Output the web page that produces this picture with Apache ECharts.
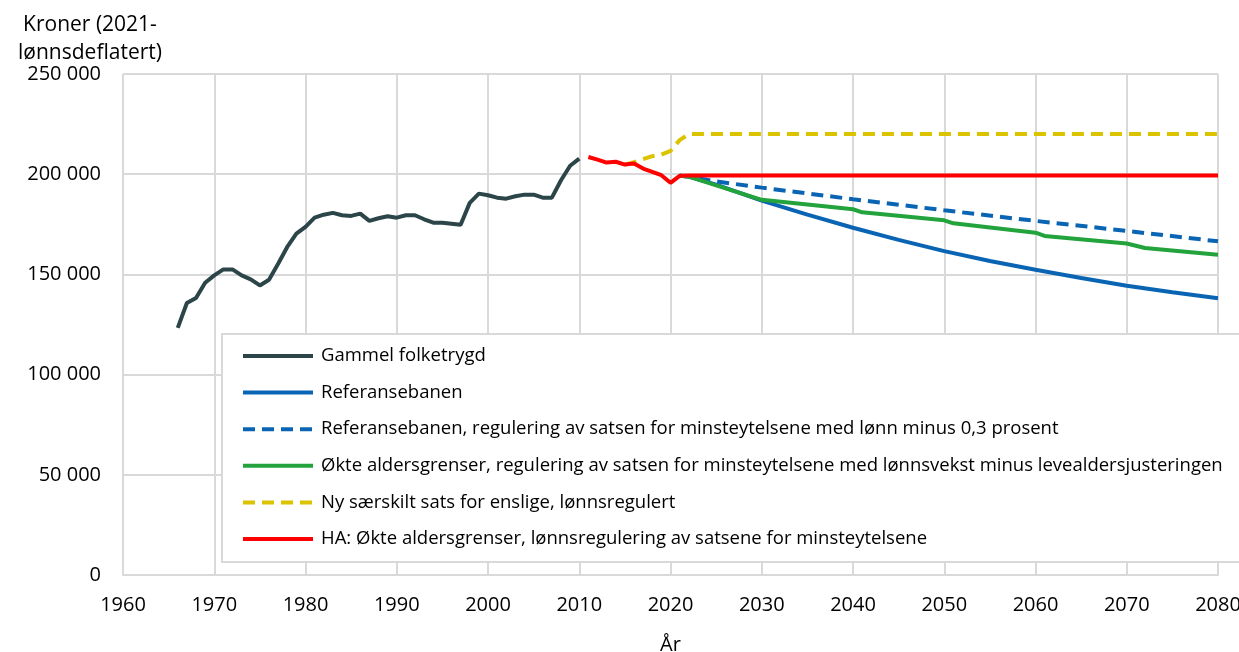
<!DOCTYPE html>
<html>
<head>
<meta charset="utf-8">
<script src="https://cdn.jsdelivr.net/npm/echarts@6/dist/echarts.min.js"></script>
<style>
  html, body { margin: 0; padding: 0; background: #fff; }
  #chart { width: 1239px; height: 652px; }
</style>
</head>
<body>
<div id="chart"></div>
<script>
// Gammel folketrygd (historisk), 1966-2010
var histYears = [1966, 1967, 1968, 1969, 1970, 1971, 1972, 1973, 1974, 1975, 1976, 1977, 1978, 1979,
  1980, 1981, 1982, 1983, 1984, 1985, 1986, 1987, 1988, 1989, 1990, 1991, 1992, 1993, 1994, 1995,
  1996, 1997, 1998, 1999, 2000, 2001, 2002, 2003, 2004, 2005, 2006, 2007, 2008, 2009, 2010];
var histValues = [123300, 135700, 138200, 145800, 149500, 152500, 152500, 149500, 147500, 144500,
  147300, 155300, 163700, 170300, 173700, 178300, 179800, 180700, 179500, 179200, 180300, 176700,
  178000, 179000, 178300, 179500, 179500, 177500, 175800, 175800, 175300, 174800, 185700, 190300,
  189500, 188300, 187800, 189000, 189800, 189800, 188300, 188300, 197000, 204200, 207800];

// HA: Økte aldersgrenser, lønnsregulering
var haYears = [2011, 2012, 2013, 2014, 2015, 2016, 2017, 2018, 2019, 2020, 2021, 2022, 2080];
var haValues = [208600, 207300, 205800, 206200, 204800, 205300, 202800, 201200, 199500, 195700, 199200, 199300, 199300];

// Ny særskilt sats for enslige
var enslYears = [2015, 2016, 2017, 2018, 2019, 2020, 2021, 2022, 2080];
var enslValues = [204800, 206000, 207500, 209000, 209800, 211600, 217000, 220000, 220000];

// Referansebanen
var refYears = [2021, 2022, 2025, 2030, 2035, 2040, 2045, 2050, 2055, 2060, 2065, 2070, 2075, 2080];
var refValues = [199200, 198800, 194800, 186800, 179800, 173300, 167200, 161600, 156700, 152300, 148200, 144300, 141100, 138100];

// Referansebanen, minus 0,3 prosent
var ref03Years = [2021, 2022, 2025, 2030, 2040, 2050, 2060, 2070, 2080];
var ref03Values = [199200, 198800, 196400, 193300, 187500, 182000, 176700, 171700, 166500];

// Økte aldersgrenser, minus levealdersjusteringen
var oktYears = [2021, 2022, 2030, 2040, 2041, 2050, 2051, 2060, 2061, 2070, 2072, 2080];
var oktValues = [199200, 198800, 187200, 182500, 181000, 177000, 175500, 170800, 169200, 165400, 163200, 159800];

var yTicks = [0, 50000, 100000, 150000, 200000, 250000];

var names = [
  'Gammel folketrygd',
  'Referansebanen',
  'Referansebanen, regulering av satsen for minsteytelsene med lønn minus 0,3 prosent',
  'Økte aldersgrenser, regulering av satsen for minsteytelsene med lønnsvekst minus levealdersjusteringen',
  'Ny særskilt sats for enslige, lønnsregulert',
  'HA: Økte aldersgrenser, lønnsregulering av satsene for minsteytelsene'
];

function pairs(xs, ys) {
  return xs.map(function (x, i) { return [x, ys[i]]; });
}

function fmt(v) {
  return String(v).replace(/\B(?=(\d{3})+(?!\d))/g, ' ');
}

var font = 'Open Sans';
var fs = 20;
var chart = echarts.init(document.getElementById('chart'));

function line(name, data, color, dashed, z) {
  return {
    name: name,
    type: 'line',
    data: data,
    symbol: 'none',
    z: z,
    lineStyle: { color: color, width: 4, type: dashed ? [12, 7] : 'solid' },
    itemStyle: { color: color }
  };
}

chart.setOption({
  animation: false,
  textStyle: { fontFamily: font },
  grid: { left: 123, right: 21, top: 74, bottom: 77, containLabel: false, outerBoundsMode: 'none' },
  graphic: [{
    type: 'text',
    x: 90, y: 11,
    style: {
      text: 'Kroner (2021-\nlønnsdeflatert)',
      textAlign: 'center',
      font: '21px "Open Sans"',
      lineHeight: 28,
      fill: '#000'
    }
  }],
  xAxis: {
    type: 'value',
    min: 1960, max: 2080, interval: 10,
    name: 'År',
    nameLocation: 'middle',
    nameGap: 60,
    nameTextStyle: { fontSize: fs, color: '#000', fontFamily: font },
    axisLine: { show: true, lineStyle: { color: '#d9d9d9', width: 2 } },
    axisTick: { show: false },
    axisLabel: { fontSize: fs, color: '#000', margin: 20, fontFamily: font, formatter: function (v) { return String(v); } },
    splitLine: { show: true, lineStyle: { color: '#d9d9d9', width: 2 } }
  },
  yAxis: {
    type: 'value',
    min: yTicks[0], max: yTicks[yTicks.length - 1], interval: 50000,
    axisLine: { show: false },
    axisTick: { show: false },
    axisLabel: { fontSize: fs, color: '#000', margin: 22, fontFamily: font, formatter: fmt },
    splitLine: { show: true, lineStyle: { color: '#d9d9d9', width: 2 } }
  },
  legend: {
    orient: 'vertical',
    left: 222, top: 334,
    data: names,
    backgroundColor: '#fff',
    borderColor: '#d9d9d9',
    borderWidth: 2,
    padding: [12, 200, 13, 19],
    itemWidth: 70, itemHeight: 14, itemGap: 16.6,
    itemStyle: { opacity: 0 },
    lineStyle: { width: 4 },
    textStyle: { fontSize: 18.5, lineHeight: 20, color: '#000', fontFamily: font, padding: [0, 0, 0, 3] }
  },
  series: [
    line(names[0], pairs(histYears, histValues), '#2b4549', false, 5),
    line(names[1], pairs(refYears, refValues), '#0a64b4', false, 3),
    line(names[2], pairs(ref03Years, ref03Values), '#0a64b4', true, 3),
    line(names[3], pairs(oktYears, oktValues), '#23a33b', false, 4),
    line(names[4], pairs(enslYears, enslValues), '#dcc300', true, 4),
    line(names[5], pairs(haYears, haValues), '#ff0000', false, 6)
  ]
});
</script>
</body>
</html>
